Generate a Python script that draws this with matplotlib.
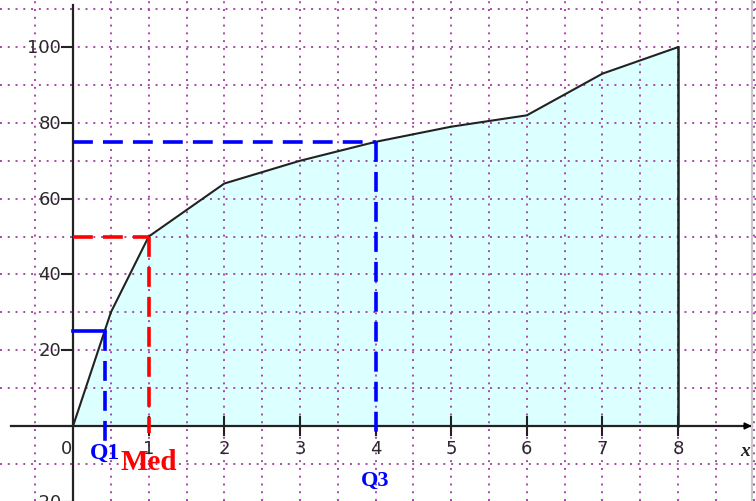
import matplotlib
matplotlib.use("Agg")
import matplotlib.pyplot as plt
import numpy as np

# Data (cumulative frequency polygon)
x_vals = [0, 0.5, 1, 2, 3, 4, 5, 6, 7, 8]
y_vals = [0, 30, 50, 64, 70, 75, 79, 82, 93, 100]

# Quartiles
q_names = ["Q1", "Med", "Q3"]
q_x = [0.42, 1, 4]
q_y = [25, 50, 75]
q_colors = ["#0000ff", "#ff0000", "#0000ff"]

x_ticks = [1, 2, 3, 4, 5, 6, 7, 8]
x_labels = ["1", "2", "3", "4", "5", "6", "7", "8"]
y_ticks = [-20, 20, 40, 60, 80, 100]
y_labels = ["-20", "20", "40", "60", "80", "100"]

fig = plt.figure(figsize=(7.56, 5.02), dpi=100)
ax = fig.add_axes([0, 0, 1, 1])
xmin, xmax = -0.966, 9.03
ymin, ymax = -19.8, 112.7
ax.set_xlim(xmin, xmax)
ax.set_ylim(ymin, ymax)
ax.axis("off")

grid_col = "#a848a8"
# dotted grid
for gx in np.arange(-0.5, 9.01, 0.5):
    if abs(gx) < 1e-9:
        continue
    ax.plot([gx, gx], [ymin, ymax], color=grid_col, lw=1.4, dashes=(1, 3), zorder=3)
for gy in np.arange(-10, 111, 10):
    if abs(gy) < 1e-9:
        continue
    ax.plot([xmin, xmax], [gy, gy], color=grid_col, lw=1.4, dashes=(1, 3), zorder=3)

# fill under polygon
ax.fill_between(x_vals, y_vals, 0, color="#dcffff", zorder=1, lw=0)
ax.plot(x_vals, y_vals, color="#222222", lw=1.5, zorder=5)
ax.plot([x_vals[-1], x_vals[-1]], [0, y_vals[-1]], color="#222222", lw=1.8, zorder=5)

# axes lines
ax.plot([xmin + 0.15, xmax - 0.05], [0, 0], color="#222222", lw=1.6, zorder=6)
ax.plot([0, 0], [ymin, ymax - 1.5], color="#222222", lw=1.6, zorder=6)
ax.annotate("", xy=(xmax - 0.02, 0), xytext=(xmax - 0.2, 0),
            arrowprops=dict(arrowstyle="-|>", color="black", lw=1.2,
                            mutation_scale=10), zorder=7)

# ticks
for t in x_ticks:
    ax.plot([t, t], [-2.3, 2.3], color="#222222", lw=1.5, zorder=6)
for t in y_ticks:
    ax.plot([-0.145, 0], [t, t], color="#222222", lw=1.5, zorder=6)

tick_font = dict(fontsize=13, color="#2a2a2a", family="DejaVu Sans")
for t, lab in zip(x_ticks, x_labels):
    ax.text(t, -5.8, lab, ha="center", va="center", **tick_font)
ax.text(-0.09, -5.8, "0", ha="center", va="center", **tick_font)
for t, lab in zip(y_ticks, y_labels):
    ax.text(-0.16, t, lab, ha="right", va="center", **tick_font)

ax.text(8.89, -6.5, "x", ha="center", va="center", fontsize=14,
        style="italic", weight="bold", family="Liberation Serif", color="#222222")

# quartile guide lines
dash = (5.5, 2.8)
# Q1
ax.plot([0, q_x[0]], [q_y[0], q_y[0]], color=q_colors[0], lw=2.6, zorder=8)
ax.plot([q_x[0], q_x[0]], [q_y[0], -4], color=q_colors[0], lw=2.6, dashes=dash, zorder=8)
# Med
ax.plot([0, q_x[1]], [q_y[1], q_y[1]], color=q_colors[1], lw=2.6, dashes=dash, zorder=8)
ax.plot([q_x[1], q_x[1]], [q_y[1], -1.8], color=q_colors[1], lw=2.6, dashes=dash, zorder=8)
# Q3
ax.plot([0, q_x[2]], [q_y[2], q_y[2]], color=q_colors[2], lw=2.6, dashes=dash, zorder=8)
ax.plot([q_x[2], q_x[2]], [q_y[2], -1.8], color=q_colors[2], lw=2.6, dashes=dash, zorder=8)

label_pos = [(0.42, -7.0, 17), (1.0, -9.3, 21), (4.0, -14.3, 16)]
for name, col, (lx, ly, fs) in zip(q_names, q_colors, label_pos):
    ax.text(lx, ly, name, ha="center", va="center", fontsize=fs, weight="bold",
            family="Liberation Serif", color=col, zorder=9)

# right border
ax.plot([xmax - 0.055, xmax - 0.055], [ymin, ymax], color="#c8c8c8", lw=1.5, zorder=10)

fig.savefig("out.png", dpi=100)
